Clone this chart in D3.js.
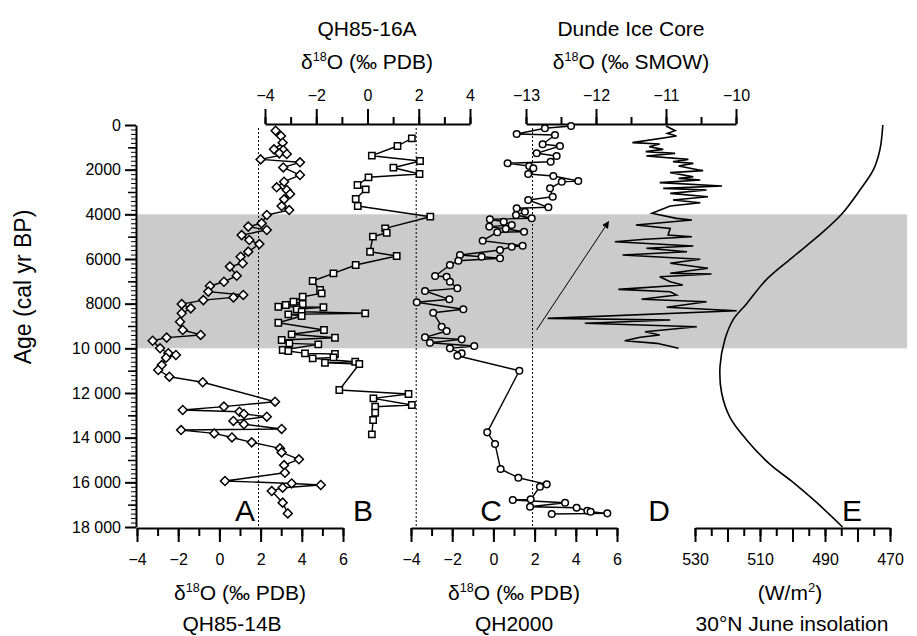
<!DOCTYPE html>
<html><head><meta charset="utf-8">
<script src="https://cdn.jsdelivr.net/npm/d3@7/dist/d3.min.js"></script>
<style>body{margin:0;background:#fff}svg{display:block}</style>
</head><body><svg id="c" width="917" height="636"></svg>
<script>
// ---------- DATA ----------
// Panel A: QH85-14B (diamonds)
const ageA = [255,493,792,1090,1120,1270,1300,1540,1670,1900,2240,2540,2790,2910,3090,3330,3630,3810,4030,4400,4550,4700,4930,5150,5330,5670,5900,6190,6340,6750,7020,7210,7460,7610,7720,7840,8020,8210,8430,8810,9180,9400,9520,9660,10000,10220,10300,10420,10750,10970,11270,11520,12390,12610,12760,12840,12940,13060,13250,13400,13610,13660,13810,13990,14210,14480,14660,14970,15230,15570,15940,16050,16120,16240,16390,16910,17390];
const valA = [2.73,2.99,3.07,2.65,3.10,2.91,3.27,2.00,3.91,3.10,3.91,3.14,2.78,3.27,3.43,3.14,3.02,3.39,2.30,2.05,1.40,2.30,1.08,1.45,1.94,1.40,1.03,1.13,0.51,0.84,0.22,-0.46,-0.54,1.16,0.68,-0.78,-1.83,-1.39,-1.83,-1.91,-1.78,-0.91,-2.56,-3.24,-2.88,-2.48,-2.11,-2.59,-2.80,-2.97,-2.43,-0.81,2.70,0.22,-1.78,0.97,1.19,2.30,0.68,1.19,3.02,-1.86,-0.25,0.61,1.57,2.94,3.02,3.86,3.14,3.18,0.27,3.51,4.92,3.07,2.54,3.07,3.32];
// Panel B: QH85-16A (squares)
const ageB = [596,940,1375,1612,1912,2194,2342,2687,2880,3314,3627,4106,4626,4823,5002,5674,5866,6270,6641,6986,7389,7537,7689,7913,8016,8060,8137,8160,8253,8360,8432,8480,8553,8853,9180,9372,9525,9628,9776,9821,10076,10120,10224,10255,10403,10448,10600,10644,10703,11867,12046,12239,12538,12614,12883,13210,13850];
const valB = [1.73,1.17,0.17,2.05,1.01,2.03,0.04,-0.39,-0.07,-0.46,-0.38,2.45,0.69,0.75,0.21,0.10,1.14,-0.46,-1.33,-2.14,-1.85,-1.79,-2.53,-2.89,-2.53,-3.19,-3.48,-1.72,-2.76,-2.57,-0.09,-3.09,-2.57,-3.48,-1.70,-2.96,-1.27,-3.35,-3.05,-1.92,-3.31,-3.09,-2.44,-1.27,-1.33,-2.14,-0.48,-1.66,-0.32,-1.10,1.60,0.23,1.73,0.30,0.30,0.22,0.17];
// Panel C: QH2000 (circles)
const ageC = [45,148,403,448,864,940,1267,1388,1643,1715,1836,1939,2194,2284,2508,2539,2835,3211,3359,3686,3730,3882,4030,4178,4223,4330,4478,4550,4650,4778,4800,5181,5405,5450,5597,5821,5897,5969,6077,6269,6762,6793,7017,7313,7433,7805,7939,8253,8405,9032,9225,9507,9597,9749,9897,10000,10224,10332,11003,13761,14285,15404,15794,16090,16197,16761,16793,16913,17092,17137,17271,17316,17388,17420];
const valC = [3.77,2.50,1.13,2.99,2.39,3.23,2.10,3.07,2.78,0.69,1.74,1.94,1.69,2.91,4.12,3.32,2.75,2.88,1.69,2.67,1.13,1.53,1.10,1.86,-0.17,0.50,0.89,-0.20,0.60,1.49,0.19,-0.52,1.42,0.89,0.32,-1.62,-0.57,0.32,-1.70,-2.11,-2.83,-2.27,-2.11,-1.75,-3.32,-2.14,-3.72,-1.46,-2.92,-2.51,-2.27,-3.32,-1.54,-3.08,-0.93,-2.11,-1.54,-1.75,1.26,-0.30,0.08,0.35,1.21,2.59,2.26,1.81,0.94,3.48,1.78,4.04,4.56,4.72,5.53,2.83];
// Panel D: Dunde ice core
const ageD = [45,254,373,493,791,851,970,1090,1194,1269,1388,1538,1642,1717,1836,2045,2134,2314,2388,2463,2582,2732,2836,2911,3061,3210,3359,3478,3627,3956,4180,4254,4478,4627,4926,5002,5118,5226,5418,5521,5674,5821,6014,6193,6417,6641,6672,6793,7017,7164,7358,7463,7612,7805,7913,8163,8316,8657,8732,8880,9032,9256,9404,9507,9659,9776,10000];
const valD = [-11.00,-10.87,-10.98,-10.85,-11.48,-11.09,-11.24,-11.04,-11.29,-10.87,-11.28,-10.68,-10.90,-10.61,-10.82,-10.47,-10.94,-10.61,-10.82,-10.51,-11.09,-10.20,-11.04,-10.42,-10.94,-10.40,-10.90,-10.51,-10.94,-11.20,-10.85,-10.63,-11.43,-10.94,-10.97,-10.63,-11.30,-11.73,-10.61,-11.28,-10.70,-11.62,-10.51,-10.94,-10.40,-10.94,-10.35,-11.09,-10.94,-10.76,-11.68,-10.94,-10.85,-11.35,-10.42,-10.99,-9.99,-12.69,-10.94,-12.16,-10.56,-11.30,-11.09,-11.37,-11.59,-11.13,-10.82];
// Panel E: 30°N June insolation (W/m2)
const ageE = [0,1100,2000,2900,4000,4900,5900,6900,8000,8700,9600,10800,12000,13100,14100,15200,16000,16900,18000];
const valE = [472.2,473.1,475.1,479.2,484.9,491.5,499.8,507.9,514.1,518.2,520.8,522.3,521.8,519.2,514.1,506.9,499.8,492.6,484.6];
// Shaded interval, reference lines, arrow (data units)
const band = [4000, 10000];
const modernValue = 1.9;
const arrowFrom = [-12.85, 9180], arrowTo = [-11.82, 4330];
// Tick labels
const ageTicks = [0,2000,4000,6000,8000,10000,12000,14000,16000,18000];
const ticksAC = [-4,-2,0,2,4,6];
const ticksB = [-4,-2,0,2,4];
const ticksD = [-13,-12,-11,-10];
const ticksE = [530,510,490,470];

// ---------- SCALES ----------
const F = "'Liberation Sans', Arial, Helvetica, sans-serif";
const svg = d3.select("#c");
const y  = d3.scaleLinear().domain([0,18000]).range([125,527]);
const xA = d3.scaleLinear().domain([-4,6]).range([137,343]);
const xB = d3.scaleLinear().domain([-4,4]).range([265,470]);
const xC = d3.scaleLinear().domain([-4,6]).range([411,617]);
const xD = d3.scaleLinear().domain([-13,-10]).range([526,736]);
const xE = d3.scaleLinear().domain([530,470]).range([695,890]);

// band
svg.append("rect").attr("x",136).attr("width",907-136)
  .attr("y",y(band[0])).attr("height",y(band[1])-y(band[0])).attr("fill","#cbcbcb");

// dashed lines
[xA,xB,xC].forEach(s=>{
  svg.append("line").attr("x1",s(modernValue)).attr("x2",s(modernValue))
    .attr("y1",y(0)+3).attr("y2",y(18000)).attr("stroke","#000").attr("stroke-width",1)
    .attr("stroke-dasharray","2,2");
});

function style(g, fs, sw){
  g.selectAll("path.domain").attr("stroke","#000").attr("stroke-width",2);
  g.selectAll(".tick line").attr("stroke","#000").attr("stroke-width",sw);
  g.selectAll("text").attr("font-family",F).attr("font-size",fs).attr("fill","#000");
}
function noDomain(g){ g.select(".domain").remove(); }

// left axis
const fmtAge = d => d>=10000 ? (Math.floor(d/1000)+" "+String(d%1000).padStart(3,"0")) : String(d);
const gL = svg.append("g").attr("transform","translate(136,0)");
gL.append("g").call(d3.axisLeft(y).tickValues(d3.range(0,18001,200)).tickSize(5).tickFormat("")).call(noDomain).call(g=>style(g,16,1));
gL.append("g").call(d3.axisLeft(y).tickValues(d3.range(1000,18000,2000)).tickSize(8).tickFormat("")).call(noDomain).call(g=>style(g,16,1.5));
gL.append("g").call(d3.axisLeft(y).tickValues(ageTicks).tickSize(11).tickSizeOuter(0).tickPadding(4).tickFormat(fmtAge)).call(g=>style(g,16,2));

// bottom axes A, C
function bottomAxis(scale, labels){
  const g = svg.append("g").attr("transform","translate(0,528)");
  const d = scale.domain();
  g.append("g").call(d3.axisBottom(scale).tickValues(d3.range(d[0],d[1]+0.01,1)).tickSize(8).tickFormat("")).call(noDomain).call(gg=>style(gg,16,2));
  g.append("g").call(d3.axisBottom(scale).tickValues(labels).tickSize(14).tickSizeOuter(0).tickPadding(12).tickFormat(d3.format("d"))).call(gg=>style(gg,16,2));
}
bottomAxis(xA, ticksAC);
bottomAxis(xC, ticksAC);
// bottom axis E
{
  const g = svg.append("g").attr("transform","translate(0,528)");
  g.append("g").call(d3.axisBottom(xE).tickValues(d3.range(470,531,5)).tickSize(8).tickFormat("")).call(noDomain).call(gg=>style(gg,16,2));
  g.append("g").call(d3.axisBottom(xE).tickValues(d3.range(470,531,10)).tickSize(14).tickSizeOuter(0).tickPadding(12)
     .tickFormat(d=> ticksE.includes(d)? d : "")).call(gg=>style(gg,16,2));
}
// top axes B, D
function topAxis(scale, labels, minorStep){
  const g = svg.append("g").attr("transform","translate(0,124)");
  const d = scale.domain();
  g.append("g").call(d3.axisTop(scale).tickValues(d3.range(d[0],d[1]+0.01,minorStep)).tickSize(7).tickFormat("")).call(noDomain).call(gg=>style(gg,16,2));
  g.append("g").call(d3.axisTop(scale).tickValues(labels).tickSize(15).tickSizeOuter(0).tickPadding(8).tickFormat(d3.format("d"))).call(gg=>style(gg,16,2));
}
topAxis(xB, ticksB, 1);
topAxis(xD, ticksD, 0.5);

// lines + markers
function series(ages, vals, xs){
  const pts = ages.map((a,i)=>[xs(vals[i]), y(a)]);
  svg.append("path").attr("d", d3.line()(pts)).attr("fill","none").attr("stroke","#000").attr("stroke-width",1.4).attr("stroke-linejoin","round");
  return pts;
}
const pA = series(ageA, valA, xA);
svg.append("g").selectAll("path").data(pA).join("path")
  .attr("d", d3.symbol(d3.symbolSquare, 40)())
  .attr("transform", d=>`translate(${d[0]},${d[1]}) rotate(45)`)
  .attr("fill","#fff").attr("stroke","#000").attr("stroke-width",1.5);
const pB = series(ageB, valB, xB);
svg.append("g").selectAll("path").data(pB).join("path")
  .attr("d", d3.symbol(d3.symbolSquare, 40)())
  .attr("transform", d=>`translate(${d[0]},${d[1]})`)
  .attr("fill","#fff").attr("stroke","#000").attr("stroke-width",1.5);
const pC = series(ageC, valC, xC);
svg.append("g").selectAll("circle").data(pC).join("circle")
  .attr("cx", d=>d[0]).attr("cy", d=>d[1]).attr("r",3.3)
  .attr("fill","#fff").attr("stroke","#000").attr("stroke-width",1.5);
// D
svg.append("path").attr("d", d3.line()(ageD.map((a,i)=>[xD(valD[i]), y(a)])))
  .attr("fill","none").attr("stroke","#000").attr("stroke-width",1.6).attr("stroke-linejoin","miter");
// E
svg.append("path").attr("d", d3.line().curve(d3.curveCatmullRom.alpha(0.5))(ageE.map((a,i)=>[xE(valE[i]), y(a)])))
  .attr("fill","none").attr("stroke","#000").attr("stroke-width",1.6);

// arrow
svg.append("defs").append("marker").attr("id","ah").attr("viewBox","0 0 10 10").attr("refX",9).attr("refY",5)
  .attr("markerWidth",7).attr("markerHeight",7).attr("orient","auto")
  .append("path").attr("d","M0,0L10,5L0,10z").attr("fill","#000");
svg.append("line").attr("x1",xD(arrowFrom[0])).attr("y1",y(arrowFrom[1]))
  .attr("x2",xD(arrowTo[0])).attr("y2",y(arrowTo[1])).attr("stroke","#000").attr("stroke-width",1).attr("marker-end","url(#ah)");

// texts
function txt(x, yy, s, fs, anchor){
  return svg.append("text").attr("x",x).attr("y",yy).attr("font-family",F).attr("font-size",fs)
    .attr("text-anchor",anchor||"middle").attr("fill","#000").text(s);
}
function d18(x, yy, tail, fs){
  const t = svg.append("text").attr("x",x).attr("y",yy).attr("font-family",F).attr("font-size",fs)
    .attr("text-anchor","middle").attr("fill","#000");
  t.append("tspan").text("δ");
  t.append("tspan").attr("font-size",fs*0.6).attr("dy",-fs*0.38).text("18");
  t.append("tspan").attr("dy",fs*0.38).text("O "+tail);
  return t;
}
txt(367, 36, "QH85-16A", 21);
d18(367, 69, "(‰ PDB)", 21);
txt(631, 36, "Dunde Ice Core", 21);
d18(631, 69, "(‰ SMOW)", 21);
d18(240, 600, "(‰ PDB)", 21);
txt(232, 631, "QH85-14B", 21);
d18(514, 600, "(‰ PDB)", 21);
txt(514, 631, "QH2000", 21);
{
  const t = svg.append("text").attr("x",790).attr("y",600).attr("font-family",F).attr("font-size",21).attr("text-anchor","middle");
  t.append("tspan").text("(W/m");
  t.append("tspan").attr("font-size",13).attr("dy",-8).text("2");
  t.append("tspan").attr("dy",8).text(")");
}
txt(792, 631, "30°N June insolation", 21);
svg.append("text").attr("transform","translate(31,287) rotate(-90)").attr("text-anchor","middle")
  .attr("font-family",F).attr("font-size",23).text("Age (cal yr BP)");
[["A",245],["B",363],["C",491],["D",659],["E",852]].forEach(([s,x])=>txt(x,521,s,30));
</script></body></html>
